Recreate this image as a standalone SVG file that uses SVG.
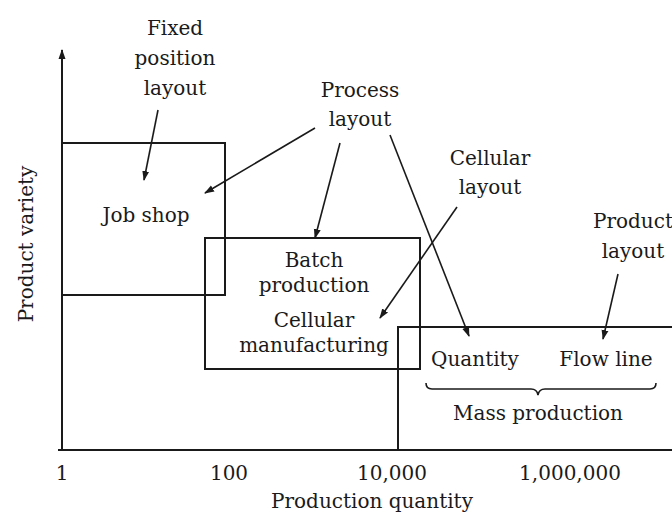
<svg xmlns="http://www.w3.org/2000/svg" width="672" height="516" viewBox="0 0 672 516">
<defs>
<marker id="ah" viewBox="0 0 10 10" refX="9" refY="5" markerWidth="10" markerHeight="10" markerUnits="userSpaceOnUse" orient="auto">
<path d="M0,1.5 L10,5 L0,8.5 Z" fill="#1a1a1a"/>
</marker>
</defs>
<style>
text{font-family:"DejaVu Serif","Liberation Serif",serif;font-size:20px;fill:#1a1a1a;text-anchor:middle}
.box{fill:none;stroke:#1a1a1a;stroke-width:2}
.ax{fill:none;stroke:#1a1a1a;stroke-width:2}
.c{fill:none;stroke:#1a1a1a;stroke-width:1.6}
</style>
<rect width="672" height="516" fill="#fff"/>
<g id="axes">
<line class="ax" x1="62" y1="450" x2="62" y2="50" marker-end="url(#ah)"/>
<line class="ax" x1="58" y1="450" x2="672" y2="450"/>
<text x="62" y="480">1</text>
<text x="229" y="480">100</text>
<text x="392" y="480">10,000</text>
<text x="570" y="480">1,000,000</text>
<text x="372" y="508">Production quantity</text>
<text transform="translate(33,244) rotate(-90)">Product variety</text>
</g>
<g id="jobshop">
<rect class="box" x="62" y="143" width="163" height="152"/>
<text x="146" y="222">Job shop</text>
</g>
<g id="batch">
<rect class="box" x="205" y="238" width="215" height="131"/>
<text x="314" y="267">Batch</text>
<text x="314" y="292">production</text>
<text x="314" y="327">Cellular</text>
<text x="314" y="352">manufacturing</text>
</g>
<g id="mass">
<rect class="box" x="398" y="327" width="280" height="123"/>
<text x="475" y="366">Quantity</text>
<text x="606" y="366">Flow line</text>
<path class="c" d="M426,383 q0,6 6,6 L531,389 q6,0 7,6 q1,-6 7,-6 L650,389 q6,0 6,-6"/>
<text x="538" y="420">Mass production</text>
</g>
<g id="fixed-label">
<text x="175" y="35">Fixed</text>
<text x="175" y="65">position</text>
<text x="175" y="95">layout</text>
</g>
<g id="process-label">
<text x="360" y="97">Process</text>
<text x="360" y="126">layout</text>
</g>
<g id="cellular-label">
<text x="490" y="165">Cellular</text>
<text x="490" y="194">layout</text>
</g>
<g id="product-label">
<text x="633" y="228">Product</text>
<text x="633" y="258">layout</text>
</g>
<g id="connectors">
<line class="c" x1="158" y1="110" x2="144" y2="180" marker-end="url(#ah)"/>
<line class="c" x1="315" y1="128" x2="205" y2="193" marker-end="url(#ah)"/>
<line class="c" x1="340" y1="143" x2="315" y2="238" marker-end="url(#ah)"/>
<line class="c" x1="390" y1="135" x2="469" y2="336" marker-end="url(#ah)"/>
<line class="c" x1="457" y1="207" x2="380" y2="318" marker-end="url(#ah)"/>
<line class="c" x1="618" y1="274" x2="603" y2="339" marker-end="url(#ah)"/>
</g>
</svg>
